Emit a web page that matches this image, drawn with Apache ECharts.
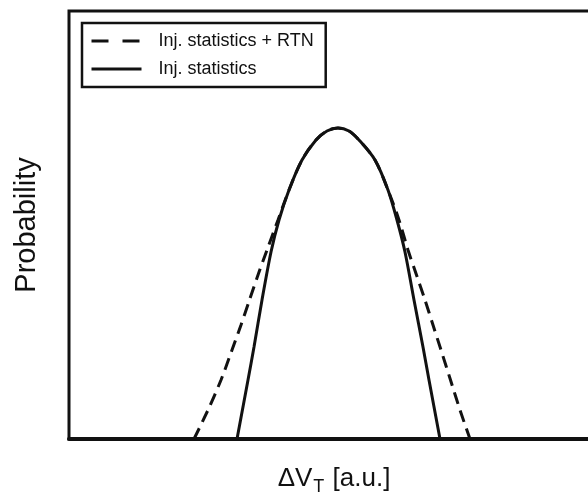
<!DOCTYPE html>
<html>
<head>
<meta charset="utf-8">
<script src="https://cdn.jsdelivr.net/npm/echarts@6/dist/echarts.min.js"></script>
<style>
  html, body { margin: 0; padding: 0; background: #fff; }
  #chart { width: 588px; height: 498px; }
</style>
</head>
<body>
<div id="chart"></div>
<script>
// Threshold-voltage shift distributions (arbitrary units)
const seriesNames = ['Inj. statistics + RTN', 'Inj. statistics'];

// ΔV_T positions [a.u.] and probabilities for injection statistics + RTN (dashed)
const rtnX = [25.0, 27.8, 30.4, 32.6, 34.4, 36.1, 37.8, 39.6, 41.8, 44.0, 46.6, 49.4, 51.6, 53.8, 56.0, 58.0, 61.2, 63.8, 66.0, 67.8, 69.5, 71.2, 72.8, 74.4, 76.3, 78.2, 80.2];
const rtnY = [0.0, 7.25, 14.75, 22.25, 28.5, 34.75, 41.0, 47.25, 54.75, 62.25, 69.75, 74.75, 77.0, 77.75, 77.0, 74.75, 69.75, 62.25, 54.75, 47.25, 41.0, 34.75, 28.5, 22.25, 14.75, 7.25, 0.0];

// ΔV_T positions [a.u.] and probabilities for injection statistics only (solid)
const injX = [33.6, 35.8, 37.0, 38.6, 40.4, 42.0, 44.0, 46.6, 49.4, 51.6, 53.8, 56.0, 58.0, 61.2, 63.8, 65.6, 67.2, 69.0, 70.8, 72.0, 74.2];
const injY = [0.0, 14.75, 23.0, 34.75, 46.75, 54.75, 62.25, 69.75, 74.75, 77.0, 77.75, 77.0, 74.75, 69.75, 62.25, 54.75, 46.75, 34.75, 23.0, 14.75, 0.0];

const pairs = (xs, ys) => xs.map((x, i) => [x, ys[i]]);
const FONT = '"Liberation Sans", Arial, Helvetica, sans-serif';
const INK = '#111';

const chart = echarts.init(document.getElementById('chart'), null, { renderer: 'canvas' });

chart.setOption({
  animation: false,
  backgroundColor: '#fff',
  grid: {
    left: 69, top: 11, width: 542, height: 428,
    outerBoundsMode: 'none', containLabel: false,
    show: true, borderColor: INK, borderWidth: 3, backgroundColor: 'transparent'
  },
  xAxis: {
    type: 'value', min: 0, max: 108.4,
    axisLine: { show: true, lineStyle: { color: INK, width: 4 } },
    axisTick: { show: false }, axisLabel: { show: false }, splitLine: { show: false },
    name: '{a|ΔV}{b|T}{a| [a.u.]}',
    nameLocation: 'middle', nameGap: 23,
    nameTextStyle: {
      padding: [0, 12, 0, 0],
      rich: {
        a: { fontFamily: FONT, fontSize: 26, color: INK },
        b: { fontFamily: FONT, fontSize: 18, color: INK, padding: [16, 1, 0, 1] }
      }
    }
  },
  yAxis: {
    type: 'value', min: 0, max: 107,
    axisLine: { show: false }, axisTick: { show: false },
    axisLabel: { show: false }, splitLine: { show: false },
    name: 'Probability', nameLocation: 'middle', nameGap: 28,
    nameTextStyle: { fontFamily: FONT, fontSize: 29, color: INK }
  },
  legend: {
    left: 82, top: 23, orient: 'vertical',
    padding: [9, 12, 9, 8],
    itemWidth: 50, itemHeight: 14, itemGap: 10,
    borderColor: INK, borderWidth: 2.5, backgroundColor: '#fff',
    itemStyle: { opacity: 0 },
    textStyle: { fontFamily: FONT, fontSize: 18, color: INK, padding: [0, 0, 0, 12] },
    data: [
      { name: seriesNames[0], lineStyle: { type: [17, 14], width: 3, color: INK } },
      { name: seriesNames[1], lineStyle: { type: 'solid', width: 3, color: INK } }
    ]
  },
  series: [
    {
      name: seriesNames[0], type: 'line', data: pairs(rtnX, rtnY),
      smooth: 0.3, symbol: 'none', clip: false,
      lineStyle: { color: INK, width: 3, type: [12, 7] },
      itemStyle: { color: INK }
    },
    {
      name: seriesNames[1], type: 'line', data: pairs(injX, injY),
      smooth: 0.3, symbol: 'none', clip: false,
      lineStyle: { color: INK, width: 3, type: 'solid' },
      itemStyle: { color: INK }
    }
  ]
});
</script>
</body>
</html>
